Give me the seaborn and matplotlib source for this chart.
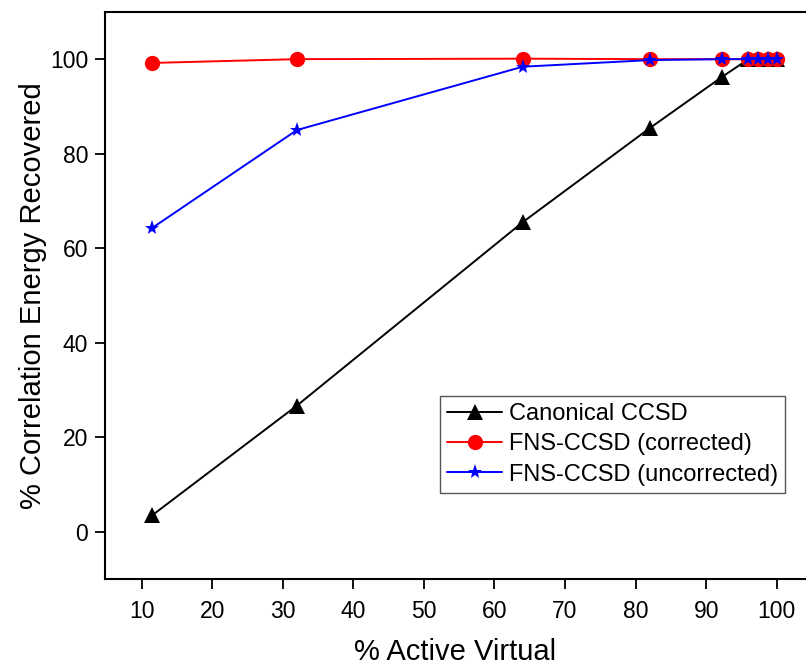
import numpy as np
import pandas as pd
import seaborn as sns
import matplotlib.pyplot as plt

# data
x_vals = [11.5, 32, 64, 82, 92.3, 96.0, 97.4, 98.8, 100]
canonical = [3.5, 26.7, 65.5, 85.4, 96.3, 100, 100, 100, 100]
fns_corr = [99.2, 100, 100.1, 100, 100, 100, 100, 100, 100]
fns_uncorr = [64.3, 85.0, 98.4, 99.8, 100, 100, 100, 100, 100]

names = ['Canonical CCSD', 'FNS-CCSD (corrected)', 'FNS-CCSD (uncorrected)']
colors = ['black', 'red', 'blue']
marks = ['^', 'o', '*']

df = pd.concat([
    pd.DataFrame({'x': x_vals, 'y': vals, 'method': n})
    for n, vals in zip(names, [canonical, fns_corr, fns_uncorr])
])

sns.set_style('ticks')
plt.rcParams['font.family'] = ['Liberation Sans', 'DejaVu Sans']
plt.rcParams['text.color'] = 'black'
plt.rcParams['axes.labelcolor'] = 'black'
plt.rcParams['xtick.color'] = 'black'
plt.rcParams['ytick.color'] = 'black'

fig = plt.figure(figsize=(8.06, 6.68), dpi=100)
ax = fig.add_axes([0.1303, 0.1332, 0.8697, 0.849])

sns.lineplot(ax=ax, data=df, x='x', y='y', hue='method', style='method',
             palette=dict(zip(names, colors)), markers=dict(zip(names, marks)),
             dashes=False, linewidth=1.4, markersize=11, markeredgewidth=0)

ax.set_xlim(4.8, 104.15)
ax.set_ylim(-10, 110)
ax.set_xticks(range(10, 101, 10))
ax.set_yticks(range(0, 101, 20))
ax.tick_params(labelsize=16.5, length=7, width=1.3, direction='out', color='black', pad=5)
ax.tick_params(axis='x', pad=8)
for s in ['left', 'bottom', 'top']:
    ax.spines[s].set_linewidth(1.5)
    ax.spines[s].set_color('black')
ax.spines['right'].set_visible(False)
ax.set_xlabel('% Active Virtual', fontsize=21, labelpad=11)
ax.set_ylabel('% Correlation Energy Recovered', fontsize=21, labelpad=2)

leg = ax.legend(loc='lower right', bbox_to_anchor=(0.970, 0.152), fontsize=17,
                frameon=True, fancybox=False, edgecolor='#555555', borderpad=0.3,
                handlelength=2.3, labelspacing=0.35, handletextpad=0.3, borderaxespad=0)
leg.get_frame().set_linewidth(1.0)
leg.get_frame().set_alpha(1)

plt.savefig('out.png', dpi=100)
